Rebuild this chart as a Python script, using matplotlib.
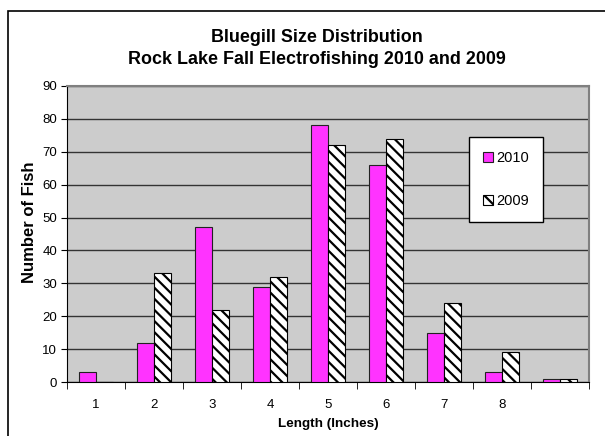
import numpy as np
import matplotlib.pyplot as plt
from matplotlib.patches import Rectangle

plt.rcParams['font.family'] = ['Liberation Sans', 'DejaVu Sans']
plt.rcParams['hatch.linewidth'] = 1.6

# data
categories = ['1', '2', '3', '4', '5', '6', '7', '8', '']
fish_2010 = [3, 12, 47, 29, 78, 66, 15, 3, 1]
fish_2009 = [0, 33, 22, 32, 72, 74, 24, 9, 1]

fig = plt.figure(figsize=(6.05, 4.36), dpi=100)
W, H = 605, 436
ax = fig.add_axes([67 / W, 1 - 382 / H, (589 - 67) / W, (382 - 86) / H])
ax.set_facecolor('#cccccc')

# outer chart border (cropped on right/bottom)
fig.patches.append(Rectangle((8 / W, -0.1), 1.2, 1 - 11 / H + 0.1, transform=fig.transFigure,
                             fill=False, edgecolor='black', linewidth=1.2))

x = np.arange(len(categories))
bw = 0.285
ax.bar(x - bw / 2, fish_2010, bw, color='#ff33ff', edgecolor='#222222', linewidth=0.8,
       label='2010', zorder=3)
ax.bar(x + bw / 2, fish_2009, bw, color='white', edgecolor='black', hatch='\\\\\\',
       linewidth=0.8, label='2009', zorder=3)

ax.set_xlim(-0.5, len(categories) - 0.5)
ax.set_ylim(0, 90)
ax.set_yticks(range(0, 91, 10))
ax.yaxis.grid(True, color='#333333', linewidth=1.0, zorder=1)
ax.set_axisbelow(True)

ax.set_xticks(x)
ax.set_xticklabels(categories, fontsize=9.5)
ax.set_xticks(np.arange(-0.5, len(categories)), minor=True)
ax.tick_params(axis='x', which='major', length=0, pad=12)
ax.tick_params(axis='x', which='minor', length=5, direction='out', color='black')
ax.tick_params(axis='y', length=4, direction='out', labelsize=9.5, pad=3)

for s in ['top', 'right']:
    ax.spines[s].set_color('#808080')
    ax.spines[s].set_linewidth(1.5)
ax.spines['left'].set_color('black')
ax.spines['bottom'].set_color('black')

ax.set_xlabel('Length (Inches)', fontsize=9.7, fontweight='bold')
ax.xaxis.set_label_coords((328 - 67) / 522, (382 - 418) / 296)
ax.set_ylabel('Number of Fish', fontsize=12, fontweight='bold')
ax.yaxis.set_label_coords((37 - 67) / 522, (382 - 222) / 296)

fig.text(317 / W, 1 - 38 / H, 'Bluegill Size Distribution', ha='center', va='center',
         fontsize=12.9, fontweight='bold')
fig.text(317 / W, 1 - 59 / H, 'Rock Lake Fall Electrofishing 2010 and 2009', ha='center',
         va='center', fontsize=12.9, fontweight='bold')

leg = ax.legend(loc='upper left', bbox_to_anchor=((469 - 67) / 522, (382 - 137) / 296),
                frameon=True, fancybox=False, fontsize=10.5, handlelength=0.7,
                handleheight=0.7, handletextpad=0.25, labelspacing=2.0,
                borderpad=0.95, borderaxespad=0)
leg.get_frame().set_edgecolor('black')
leg.get_frame().set_linewidth(1.0)
leg.get_frame().set_facecolor('white')
leg.get_frame().set_alpha(1)

fig.savefig('out.png', dpi=100)
